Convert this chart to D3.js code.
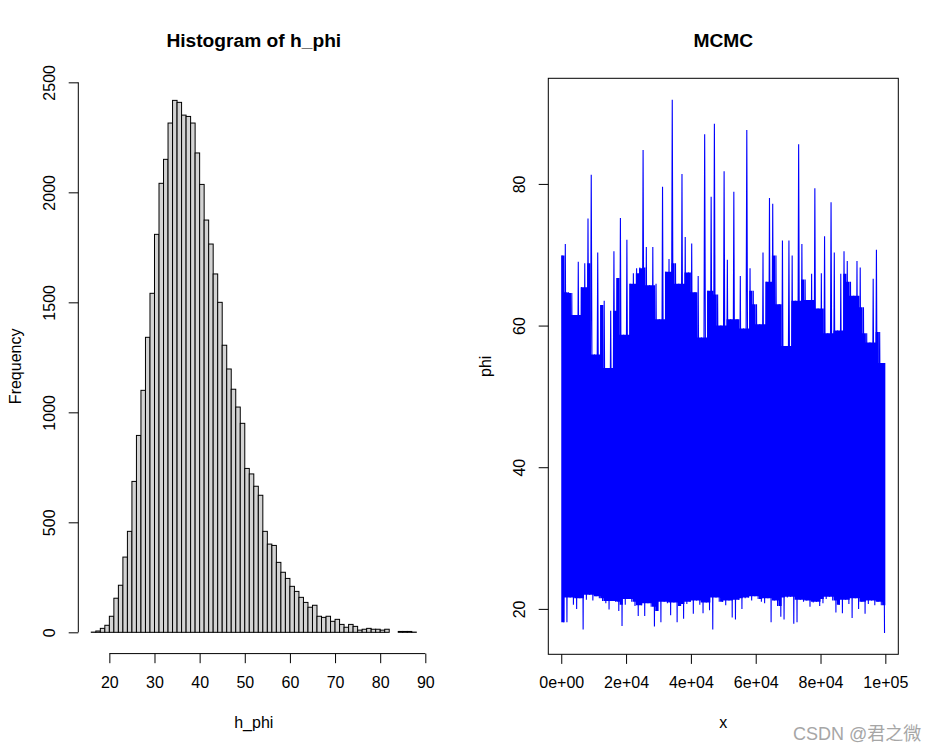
<!DOCTYPE html>
<html>
<head>
<meta charset="utf-8">
<script src="https://cdn.jsdelivr.net/npm/d3@7"></script>
<style>
  body { margin: 0; background: #fff; }
  text { font-family: "Liberation Sans", Arial, sans-serif; }
</style>
</head>
<body>
<div id="chart"></div>
<script>
// histogram of h_phi: bins of width 1 starting at 16
var histStart = 16;
var histCounts = [1, 6, 18, 32, 73, 155, 214, 342, 459, 686,
  895, 1100, 1341, 1541, 1809, 2041, 2150, 2315, 2418, 2409,
  2351, 2345, 2315, 2179, 2036, 1874, 1765, 1629, 1500, 1305,
  1197, 1105, 1024, 950, 745, 720, 664, 623, 459, 401,
  395, 318, 273, 245, 209, 186, 159, 136, 114, 123,
  73, 68, 73, 50, 59, 36, 23, 36, 27, 10,
  14, 18, 14, 14, 10, 14, 0, 0, 4, 4,
  4, 1];
var histXTicks = [20, 30, 40, 50, 60, 70, 80, 90];
var histYTicks = [0, 500, 1000, 1500, 2000, 2500];

// MCMC trace, summarised per 1000 iterations (max and min of phi in each block)
var traceBlock = 1000;
var traceMax = [69.9, 71.5, 64.7, 64.6, 61.5, 69.0, 65.4, 68.8, 75.1, 81.3,
  55.9, 70.3, 62.9, 63.5, 54.0, 62.1, 70.5, 66.7, 75.2, 58.7,
  72.1, 65.9, 67.4, 68.1, 68.2, 84.8, 71.1, 65.7, 71.1, 65.9,
  60.9, 79.6, 67.6, 69.4, 91.9, 68.8, 65.9, 81.4, 72.5, 67.5,
  71.6, 64.7, 67.0, 58.3, 87.0, 64.9, 78.2, 88.5, 64.4, 60.0,
  81.8, 69.3, 60.9, 78.9, 60.9, 67.0, 59.6, 87.6, 68.1, 64.9,
  63.0, 60.2, 70.3, 66.2, 78.0, 77.2, 69.9, 63.0, 72.0, 57.1,
  72.0, 69.9, 63.5, 85.6, 71.5, 66.5, 63.6, 67.3, 79.4, 62.4,
  67.4, 72.6, 58.9, 77.4, 70.3, 59.3, 67.3, 70.5, 69.1, 66.2,
  64.2, 69.1, 68.2, 62.6, 58.9, 57.6, 66.6, 70.7, 59.1, 54.7];
var traceMin = [18.1, 18.1, 21.6, 20.6, 20.0, 21.5, 17.1, 21.3, 22.0, 21.2,
  21.8, 21.5, 21.1, 20.8, 19.9, 21.1, 21.0, 19.7, 17.6, 20.6,
  21.4, 21.0, 20.4, 19.0, 20.5, 19.0, 20.8, 20.3, 17.5, 19.7,
  18.1, 21.0, 20.8, 19.1, 20.9, 18.1, 20.4, 18.6, 20.7, 21.0,
  19.3, 21.2, 20.6, 19.4, 20.9, 19.8, 17.1, 21.6, 21.0, 21.0,
  20.5, 21.2, 18.8, 18.5, 21.3, 20.0, 21.5, 21.6, 21.2, 21.8,
  21.4, 21.0, 20.8, 21.5, 18.1, 21.2, 20.4, 18.9, 18.5, 21.6,
  21.7, 17.9, 18.1, 21.3, 21.0, 21.2, 20.3, 20.9, 21.0, 20.4,
  20.8, 21.4, 21.7, 21.2, 19.5, 20.6, 19.4, 21.3, 20.7, 18.7,
  21.5, 20.0, 21.0, 19.3, 20.7, 21.2, 20.5, 21.0, 20.5, 16.6];
var traceXTicks = [0, 20000, 40000, 60000, 80000, 100000];
var traceXLabels = ["0e+00", "2e+04", "4e+04", "6e+04", "8e+04", "1e+05"];
var traceYTicks = [20, 40, 60, 80];

var svgWidth = 939;
var svgHeight = 752;
var fontSize = 16;
var tick = 9.6;

var svg = d3.select("#chart")
  .append("svg")
  .attr("width", svgWidth)
  .attr("height", svgHeight);

// panel boxes (plot regions)
var left = { x0: 78.3, x1: 429.3, y0: 79.1, y1: 653.6 };
var right = { x0: 548.3, x1: 898.3, y0: 78.3, y1: 654.3 };

// ---------- Histogram ----------
var histEnd = histStart + histCounts.length;
var padX = 0.04 * (histEnd - histStart);
var maxCount = d3.max(histCounts);
var xH = d3.scaleLinear()
  .domain([histStart - padX, histEnd + padX])
  .range([left.x0, left.x1]);
var yH = d3.scaleLinear()
  .domain([-0.04 * maxCount, 1.04 * maxCount])
  .range([left.y1, left.y0]);

svg.append("g").selectAll("rect")
  .data(histCounts)
  .enter()
  .append("rect")
  .attr("x", (d, i) => xH(histStart + i))
  .attr("width", (d, i) => xH(histStart + i + 1) - xH(histStart + i))
  .attr("y", d => yH(d))
  .attr("height", d => yH(0) - yH(d))
  .attr("fill", "#d3d3d3")
  .attr("stroke", "#000")
  .attr("stroke-width", 1);

function styleAxis(g) {
  g.select(".domain").remove();
  g.selectAll("line").attr("stroke", "#000").attr("stroke-width", 1);
  g.selectAll("text")
    .attr("font-family", "Liberation Sans, Arial, sans-serif")
    .attr("font-size", fontSize)
    .attr("fill", "#000");
}

// rotate y tick labels like R (las = 0)
function rotateLabels(g) {
  g.selectAll(".tick text")
    .attr("x", null).attr("y", 0).attr("dy", 0)
    .attr("text-anchor", "middle")
    .attr("transform", "translate(-23.3,0) rotate(-90)");
}

// x axis of histogram
var hx = svg.append("g")
  .attr("transform", `translate(0, ${left.y1})`)
  .call(d3.axisBottom(xH).tickValues(histXTicks).tickSize(tick));
styleAxis(hx);
hx.selectAll("text").attr("y", 34.8).attr("dy", 0);
hx.append("line")
  .attr("x1", xH(histXTicks[0])).attr("x2", xH(histXTicks[histXTicks.length - 1]))
  .attr("stroke", "#000");

// y axis of histogram
var hy = svg.append("g")
  .attr("transform", `translate(${left.x0}, 0)`)
  .call(d3.axisLeft(yH).tickValues(histYTicks).tickSize(tick).tickFormat(d3.format("d")));
styleAxis(hy);
rotateLabels(hy);
hy.append("line")
  .attr("y1", yH(histYTicks[0])).attr("y2", yH(histYTicks[histYTicks.length - 1]))
  .attr("stroke", "#000");

svg.append("text")
  .attr("x", (left.x0 + left.x1) / 2)
  .attr("y", 47)
  .attr("text-anchor", "middle")
  .attr("font-weight", "bold")
  .attr("font-size", 19.2)
  .text("Histogram of h_phi");

svg.append("text")
  .attr("x", (left.x0 + left.x1) / 2)
  .attr("y", 728)
  .attr("text-anchor", "middle")
  .attr("font-size", fontSize)
  .text("h_phi");

svg.append("text")
  .attr("transform", `translate(20.7, ${(left.y0 + left.y1) / 2}) rotate(-90)`)
  .attr("text-anchor", "middle")
  .attr("font-size", fontSize)
  .text("Frequency");

// ---------- MCMC trace ----------
var nBlocks = traceMax.length;
var nIter = nBlocks * traceBlock;
var vMin = d3.min(traceMin);
var vMax = d3.max(traceMax);
var xT = d3.scaleLinear()
  .domain([-0.04 * nIter, 1.04 * nIter])
  .range([right.x0, right.x1]);
var yT = d3.scaleLinear()
  .domain([vMin - 0.04 * (vMax - vMin), vMax + 0.04 * (vMax - vMin)])
  .range([right.y1, right.y0]);

// dense core: range that every neighbouring block has covered
var core = d3.range(nBlocks).map(function(i) {
  var w = [i - 1, i, i + 1].filter(j => j >= 0 && j < nBlocks);
  return {
    it: i * traceBlock,
    hi: d3.min(w, j => traceMax[j]),
    lo: d3.max(w, j => traceMin[j])
  };
});
core.push({ it: nIter, hi: core[nBlocks - 1].hi, lo: core[nBlocks - 1].lo });

var area = d3.area()
  .curve(d3.curveStepAfter)
  .x(d => xT(d.it))
  .y0(d => yT(d.lo))
  .y1(d => yT(d.hi));

svg.append("path")
  .datum(core)
  .attr("d", area)
  .attr("fill", "#0000ff");

// spikes: zig-zag through each block's max and min
var tracePts = [];
traceMax.forEach(function(m, i) {
  tracePts.push([i * traceBlock + 250, m]);
  tracePts.push([i * traceBlock + 750, traceMin[i]]);
});

var line = d3.line()
  .x(d => xT(d[0]))
  .y(d => yT(d[1]));

svg.append("path")
  .datum(tracePts)
  .attr("d", line)
  .attr("fill", "none")
  .attr("stroke", "#0000ff")
  .attr("stroke-width", 1.1)
  .attr("stroke-linejoin", "miter")
  .attr("stroke-miterlimit", 1);

svg.append("rect")
  .attr("x", right.x0).attr("y", right.y0)
  .attr("width", right.x1 - right.x0).attr("height", right.y1 - right.y0)
  .attr("fill", "none").attr("stroke", "#000").attr("stroke-width", 1);

var tx = svg.append("g")
  .attr("transform", `translate(0, ${right.y1})`)
  .call(d3.axisBottom(xT).tickValues(traceXTicks).tickSize(tick)
    .tickFormat((d, i) => traceXLabels[i]));
styleAxis(tx);
tx.selectAll("text").attr("y", 34.2).attr("dy", 0);

var ty = svg.append("g")
  .attr("transform", `translate(${right.x0}, 0)`)
  .call(d3.axisLeft(yT).tickValues(traceYTicks).tickSize(tick));
styleAxis(ty);
rotateLabels(ty);

svg.append("text")
  .attr("x", (right.x0 + right.x1) / 2)
  .attr("y", 47)
  .attr("text-anchor", "middle")
  .attr("font-weight", "bold")
  .attr("font-size", 19.2)
  .text("MCMC");

svg.append("text")
  .attr("x", (right.x0 + right.x1) / 2)
  .attr("y", 728)
  .attr("text-anchor", "middle")
  .attr("font-size", fontSize)
  .text("x");

svg.append("text")
  .attr("transform", `translate(490.7, ${(right.y0 + right.y1) / 2}) rotate(-90)`)
  .attr("text-anchor", "middle")
  .attr("font-size", fontSize)
  .text("phi");

// watermark
svg.append("text")
  .attr("x", 793)
  .attr("y", 740)
  .attr("font-size", 18)
  .attr("fill", "#a6a6a6")
  .style("font-family", "'Liberation Sans', 'Noto Sans CJK SC', sans-serif")
  .text("CSDN @君之微");
</script>
</body>
</html>
